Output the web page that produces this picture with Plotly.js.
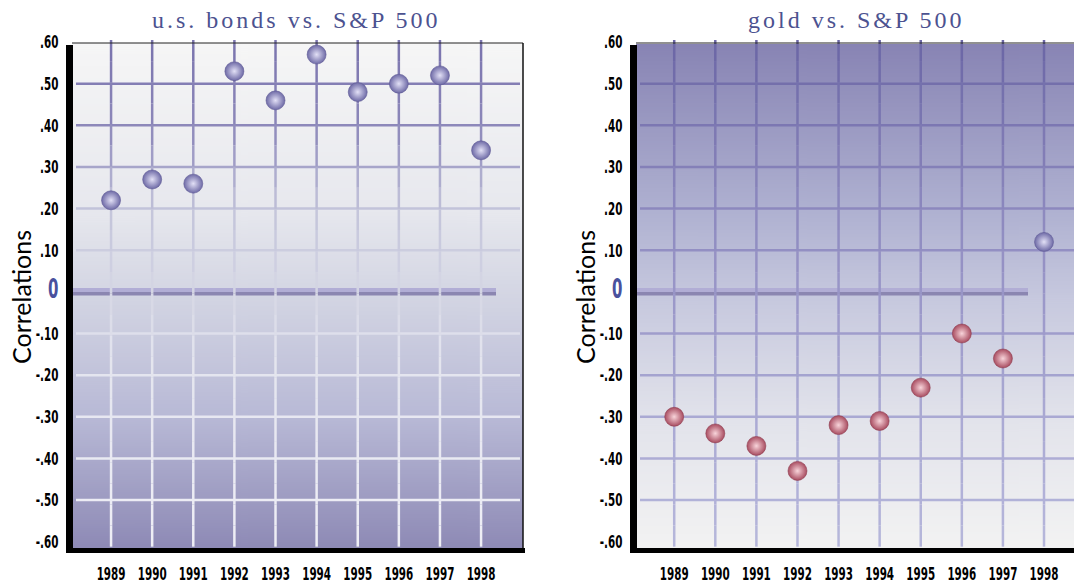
<!DOCTYPE html>
<html>
<head>
<meta charset="utf-8">
<script src="https://cdn.plot.ly/plotly-3.0.1.min.js"></script>
<style>
  html, body { margin: 0; padding: 0; background: #ffffff; }
  #chart { width: 1074px; height: 581px; }
</style>
</head>
<body>
<div id="chart"></div>
<script>
// ---------------- DATA ----------------
const years = [1989, 1990, 1991, 1992, 1993, 1994, 1995, 1996, 1997, 1998];
const bondsCorr = [0.22, 0.27, 0.26, 0.53, 0.46, 0.57, 0.48, 0.50, 0.52, 0.34];
const goldCorr  = [-0.30, -0.34, -0.37, -0.43, -0.32, -0.31, -0.23, -0.10, -0.16, 0.12];
const yTickVals = [0.6, 0.5, 0.4, 0.3, 0.2, 0.1, 0, -0.1, -0.2, -0.3, -0.4, -0.5, -0.6];
const yTickText = ['.60', '.50', '.40', '.30', '.20', '.10', '0', '-.10', '-.20', '-.30', '-.40', '-.50', '-.60'];
const xTickText = ['1989', '1990', '1991', '1992', '1993', '1994', '1995', '1996', '1997', '1998'];
const panelTitles = ['u.s. bonds vs. S&P 500', 'gold vs. S&P 500'];
const yAxisTitle = 'Correlations';
const gridYVals = [0.5, 0.4, 0.3, 0.2, 0.1, -0.1, -0.2, -0.3, -0.4, -0.5];

// ---------------- STYLE / GEOMETRY ----------------
const W = 1074, H = 581;
const px = v => v / W;          // pixel -> paper x
const py = v => 1 - v / H;      // pixel -> paper y
const plotTop = 40, plotBot = 550;
const yRange = [-0.62, 0.605];
const leftDom = [72, 523], rightDom = [636, 1074];
const leftRange = [1988.05, 1999.02], rightRange = [1988.07, 1998.73];

function hex2rgb(h) { return [1, 3, 5].map(i => parseInt(h.substr(i, 2), 16)); }
function interp(stops, t) {
  if (t <= stops[0][0]) return stops[0][1];
  for (let i = 1; i < stops.length; i++) {
    if (t <= stops[i][0]) {
      const [t0, c0] = stops[i - 1], [t1, c1] = stops[i];
      const f = (t - t0) / (t1 - t0);
      const a = hex2rgb(c0), b = hex2rgb(c1);
      const c = a.map((v, k) => Math.round(v + (b[k] - v) * f));
      return 'rgb(' + c.join(',') + ')';
    }
  }
  return stops[stops.length - 1][1];
}
const leftBg = [[0, '#f6f6f6'], [0.33, '#e7e8ee'], [0.5, '#d3d5e3'], [0.74, '#b8b9d6'], [1, '#8d89b5']];
const leftGrid = [[0, '#7a74ae'], [0.17, '#8d88ba'], [0.33, '#c2c3da'], [0.5, '#d6d7e5'], [0.62, '#e3e4ee'], [1, '#efeff6']];
const rightBg = [[0, '#8884b4'], [0.33, '#afb1d1'], [0.5, '#c6c8de'], [0.74, '#e2e3eb'], [1, '#f3f3f3']];
const rightGrid = [[0, '#6b66a5'], [0.33, '#8c88be'], [0.5, '#9a97c8'], [0.74, '#aaa9d3'], [1, '#b6b7db']];

function gradientURL(stops) {
  const c = document.createElement('canvas');
  c.width = 4; c.height = 510;
  const g = c.getContext('2d');
  const lg = g.createLinearGradient(0, 0, 0, 510);
  stops.forEach(s => lg.addColorStop(s[0], s[1]));
  g.fillStyle = lg; g.fillRect(0, 0, 4, 510);
  return c.toDataURL('image/png');
}

const valToT = v => ((yRange[1] - v) / (yRange[1] - yRange[0]));

function gridShapes(xa, ya, gridStops, xStartPx, xEndPx) {
  const out = [];
  gridYVals.forEach(v => {
    out.push({type: 'line', xref: 'paper', yref: ya, x0: px(xStartPx), x1: px(xEndPx), y0: v, y1: v,
      line: {color: interp(gridStops, valToT(v)), width: 2.5}, layer: 'below'});
  });
  const segs = 24;
  const yTop = yRange[1], yBot = -0.6 - 0.012;
  years.forEach(yr => {
    for (let s = 0; s < segs; s++) {
      const a = yTop - (yTop - yBot) * s / segs, b = yTop - (yTop - yBot) * (s + 1) / segs;
      out.push({type: 'line', xref: xa, yref: ya, x0: yr, x1: yr, y0: a, y1: b,
        line: {color: interp(gridStops, valToT((a + b) / 2)), width: 2.5}, layer: 'below'});
    }
  });
  return out;
}

function frameShapes(ya, x0px, x1px, zeroEndPx, drawRight) {
  const s = [];
  s.push({type: 'rect', xref: 'paper', yref: ya, x0: px(x0px), x1: px(zeroEndPx), y0: 0, y1: 0.0095,
    fillcolor: '#b1add5', line: {width: 0}, layer: 'below'});
  s.push({type: 'rect', xref: 'paper', yref: ya, x0: px(x0px), x1: px(zeroEndPx), y0: -0.0085, y1: 0,
    fillcolor: '#8b86b1', line: {width: 0}, layer: 'below'});
  s.push({type: 'line', xref: 'paper', yref: 'paper', x0: px(x0px), x1: px(x1px), y0: py(43), y1: py(43),
    line: {color: '#222222', width: 1.2}});
  if (drawRight) {
    s.push({type: 'line', xref: 'paper', yref: 'paper', x0: px(x1px), x1: px(x1px), y0: py(43), y1: py(550),
      line: {color: '#111111', width: 1.5}});
  }
  s.push({type: 'rect', xref: 'paper', yref: 'paper', x0: px(x0px - 6), x1: px(x0px + 1), y0: py(45), y1: py(553),
    fillcolor: '#000000', line: {width: 0}});
  s.push({type: 'rect', xref: 'paper', yref: 'paper', x0: px(x0px - 6), x1: px(x1px + 2), y0: py(548), y1: py(553),
    fillcolor: '#000000', line: {width: 0}});
  return s;
}

function markerStyle(vals) {
  return {
    size: 19,
    color: vals.map(v => v >= 0 ? '#6e6aa6' : '#a84c60'),
    gradient: {type: 'radial', color: vals.map(v => v >= 0 ? '#e2e0f6' : '#f8d4da')},
    line: {width: 0.6, color: vals.map(v => v >= 0 ? '#5f5b96' : '#8e3e50')}
  };
}

const tickFont = {family: '"DejaVu Sans Condensed", "DejaVu Sans", sans-serif', size: 18, color: '#000000', weight: 700, stretch: 'condensed'};
const yTickTextStyled = yTickText.map(t => t === '0' ? '<span style="font-size:26px;fill:#4a519d">0</span>' : t);

function yAxis(anchor) {
  return {domain: [py(plotBot), py(plotTop)], range: yRange, anchor: anchor,
    tickvals: yTickVals, ticktext: yTickTextStyled, tickfont: tickFont,
    showgrid: false, zeroline: false, showline: false,
    ticks: 'outside', ticklen: 9, tickcolor: 'rgba(0,0,0,0)', fixedrange: true};
}
function xAxis(dom, range, anchor) {
  return {domain: [px(dom[0]), px(dom[1])], range: range, anchor: anchor,
    tickvals: years, ticktext: xTickText, tickfont: tickFont, tickangle: 0,
    showgrid: false, zeroline: false, showline: false,
    ticks: 'outside', ticklen: 7, tickcolor: 'rgba(0,0,0,0)', fixedrange: true};
}

const traces = [
  {x: years, y: bondsCorr, xaxis: 'x', yaxis: 'y', type: 'scatter', mode: 'markers',
   marker: markerStyle(bondsCorr), hoverinfo: 'x+y', showlegend: false, cliponaxis: false},
  {x: years, y: goldCorr, xaxis: 'x2', yaxis: 'y2', type: 'scatter', mode: 'markers',
   marker: markerStyle(goldCorr), hoverinfo: 'x+y', showlegend: false, cliponaxis: false}
];

const shapes = [].concat(
  gridShapes('x', 'y', leftGrid, 76, 520),
  gridShapes('x2', 'y2', rightGrid, 640, 1074),
  frameShapes('y', leftDom[0], leftDom[1], 496, true),
  frameShapes('y2', rightDom[0], rightDom[1], 1028, false)
);

const titleFont = {family: '"Liberation Serif", "DejaVu Serif", serif', size: 24, color: '#4c5290'};
const axTitleFont = {family: 'Lato, "Open Sans", sans-serif', size: 25, color: '#000000'};

const annotations = [
  {text: panelTitles[0], xref: 'paper', yref: 'paper', x: px(296), y: py(20), showarrow: false, font: titleFont, xanchor: 'center', yanchor: 'middle'},
  {text: panelTitles[1], xref: 'paper', yref: 'paper', x: px(856), y: py(20), showarrow: false, font: titleFont, xanchor: 'center', yanchor: 'middle'},
  {text: yAxisTitle, xref: 'paper', yref: 'paper', x: px(21), y: py(297), showarrow: false, font: axTitleFont, textangle: -90, xanchor: 'center', yanchor: 'middle'},
  {text: yAxisTitle, xref: 'paper', yref: 'paper', x: px(585), y: py(297), showarrow: false, font: axTitleFont, textangle: -90, xanchor: 'center', yanchor: 'middle'}
];

const images = [
  {source: gradientURL(leftBg), xref: 'paper', yref: 'paper', x: px(leftDom[0]), y: py(43), sizex: px(leftDom[1] - leftDom[0]), sizey: (550 - 43) / H, sizing: 'stretch', xanchor: 'left', yanchor: 'top', layer: 'below'},
  {source: gradientURL(rightBg), xref: 'paper', yref: 'paper', x: px(rightDom[0]), y: py(44), sizex: px(rightDom[1] - rightDom[0]), sizey: (550 - 44) / H, sizing: 'stretch', xanchor: 'left', yanchor: 'top', layer: 'below'}
];

const layout = {
  width: W, height: H,
  margin: {l: 0, r: 0, t: 0, b: 0},
  paper_bgcolor: '#ffffff', plot_bgcolor: 'rgba(0,0,0,0)',
  xaxis: xAxis(leftDom, leftRange, 'y'),
  yaxis: yAxis('x'),
  xaxis2: xAxis(rightDom, rightRange, 'y2'),
  yaxis2: yAxis('x2'),
  shapes: shapes, annotations: annotations, images: images,
  showlegend: false
};

Plotly.newPlot('chart', traces, layout, {displayModeBar: false, staticPlot: true}).then(() => {
  document.querySelectorAll('.annotation-text').forEach(t => {
    if (t.textContent.indexOf('vs.') >= 0) t.style.letterSpacing = '3px';
  });
  // squeeze tick labels horizontally to mimic the very condensed face
  const sx = 0.64;
  document.querySelectorAll('g.xtick text, g.x2tick text, g.ytick text, g.y2tick text').forEach(t => {
    const x = parseFloat(t.getAttribute('x')) || 0;
    const y = parseFloat(t.getAttribute('y')) || 0;
    const tr = t.getAttribute('transform') || '';
    t.setAttribute('transform', tr + ' translate(' + x + ',' + y + ') scale(' + sx + ',1) translate(' + (-x) + ',' + (-y) + ')');
  });
});
</script>
</body>
</html>
